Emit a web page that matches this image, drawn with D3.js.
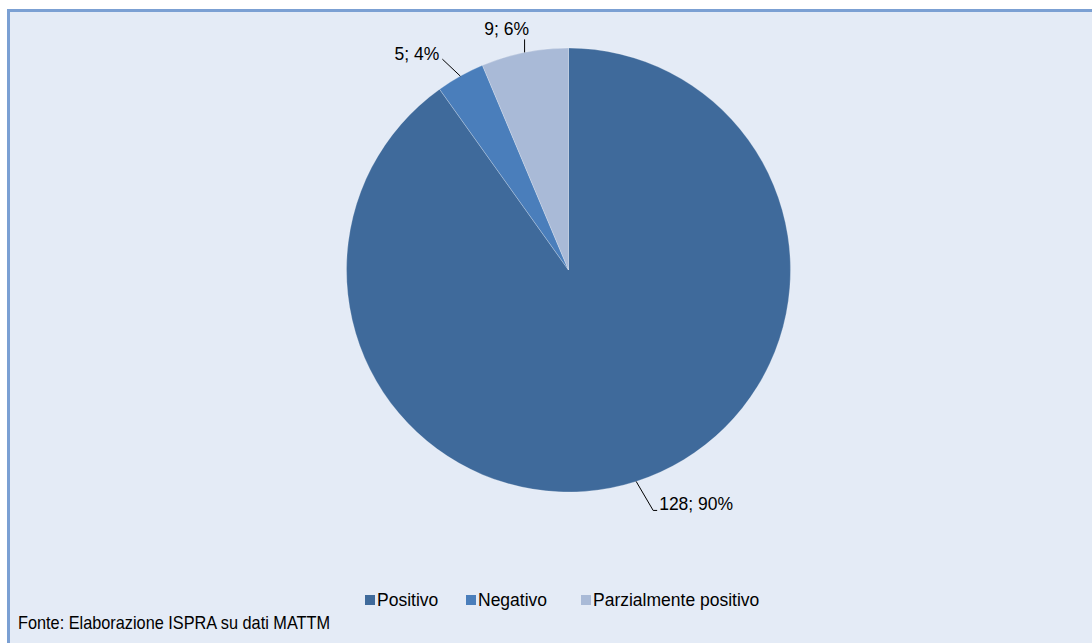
<!DOCTYPE html>
<html>
<head>
<meta charset="utf-8">
<script src="https://cdn.jsdelivr.net/npm/d3@7"></script>
<style>
  html, body { margin: 0; padding: 0; background: #fff; }
  svg { display: block; }
  text { font-family: "Liberation Sans", Arial, sans-serif; fill: #000; }
</style>
</head>
<body>
<svg id="chart" width="1092" height="643"></svg>
<script>
// Esito dei pareri
const categories = ["Positivo", "Negativo", "Parzialmente positivo"];
const values = [128, 5, 9];
const percents = ["90%", "4%", "6%"];
const colors = ["#3F6A9B", "#4A7EBB", "#A9BAD7"];
const sourceNote = "Fonte: Elaborazione ISPRA su dati MATTM";

const W = 1092, H = 643;
const svg = d3.select("#chart");

// chart area with frame (top and left edges visible)
svg.append("rect").attr("x", 8.5).attr("y", 10.5).attr("width", W).attr("height", H)
  .attr("fill", "#E4EBF6").attr("stroke", "#7BA0D3").attr("stroke-width", 3);

const cx = 568.5, cy = 270, r = 222;
const g = svg.append("g").attr("transform", `translate(${cx},${cy})`);

const data = categories.map((c, i) => ({ name: c, value: values[i], pct: percents[i], color: colors[i] }));
const pie = d3.pie().value(d => d.value).sort(null);
const arcs = pie(data);
const arc = d3.arc().innerRadius(0).outerRadius(r);

g.selectAll("path.slice").data(arcs).join("path")
  .attr("class", "slice")
  .attr("d", arc)
  .attr("fill", d => d.data.color)
  .attr("stroke", "#ffffff").attr("stroke-opacity", 0.3).attr("stroke-width", 0.8);

// leader lines + labels
const edge = a => {
  const m = (a.startAngle + a.endAngle) / 2;
  return [Math.sin(m) * r, -Math.cos(m) * r];
};
const labelSpec = [
  { end: [17, 29], hook: [4, 0], anchor: "start", tx: 6, ty: 0 },
  { end: [-18, -17], hook: [0, 0], anchor: "end", tx: -3, ty: 1 },
  { end: [0, -13], hook: [0, 0], anchor: "middle", tx: -18, ty: -4 }
];
arcs.forEach((a, i) => {
  const [ex, ey] = edge(a);
  const s = labelSpec[i];
  const x2 = ex + s.end[0], y2 = ey + s.end[1];
  const pts = [[ex, ey], [x2, y2]];
  if (s.hook[0] !== 0) pts.push([x2 + s.hook[0], y2]);
  g.append("path").attr("d", d3.line()(pts))
    .attr("fill", "none").attr("stroke", "#000").attr("stroke-width", 1);
  g.append("text")
    .attr("x", x2 + s.tx).attr("y", y2 + s.ty)
    .attr("text-anchor", s.anchor)
    .attr("font-size", 17.5)
    .text(`${a.data.value}; ${a.data.pct}`);
});

// legend
const legendX = [365, 466, 581];
const leg = svg.append("g");
data.forEach((d, i) => {
  leg.append("rect").attr("x", legendX[i]).attr("y", 595).attr("width", 10).attr("height", 10)
    .attr("fill", d.color);
  leg.append("text").attr("x", legendX[i] + 12).attr("y", 605.5)
    .attr("font-size", 17.5).text(d.name);
});

// source note
svg.append("text").attr("x", 18).attr("y", 629)
  .attr("font-size", 19)
  .attr("textLength", 312).attr("lengthAdjust", "spacingAndGlyphs")
  .text(sourceNote);
</script>
</body>
</html>
